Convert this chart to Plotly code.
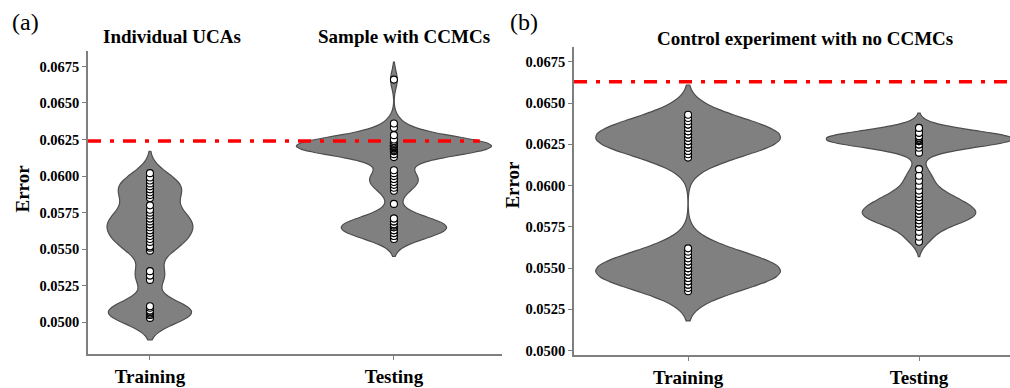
import numpy as np
import plotly.graph_objects as go

# ---------------- data ----------------
categories = ["Training", "Testing"]

# panel (a) – Individual UCAs (Training) / Sample with CCMCs (Testing)
a_train_err = [0.0503, 0.0505, 0.0506, 0.0507, 0.0508, 0.0510, 0.0511,
               0.0529, 0.0532, 0.0535,
               0.0549, 0.0551, 0.0552, 0.0555, 0.0557, 0.0559, 0.0561, 0.0563, 0.0565,
               0.0567, 0.0569, 0.0571, 0.0573, 0.0575, 0.0577, 0.0580,
               0.0585, 0.0587, 0.0589, 0.0591, 0.0593, 0.0595, 0.0597, 0.0599, 0.0602]
a_train_cnt = [1, 2, 2, 3, 2, 1, 1,
               1, 2, 1,
               1, 1, 2, 1, 1, 1, 1, 2, 1,
               2, 1, 2, 1, 1, 1, 1,
               1, 1, 1, 2, 1, 1, 1, 1, 1]

a_test_err = [0.0557, 0.0559, 0.0561, 0.0563, 0.0565, 0.0566, 0.0567, 0.0569, 0.0571,
              0.0581,
              0.0590, 0.0592, 0.0594, 0.0596, 0.0598, 0.0600, 0.0602, 0.0604,
              0.0613, 0.0615, 0.0617, 0.0618, 0.0619, 0.0620, 0.0621, 0.0622, 0.0623,
              0.0624, 0.0625, 0.0628, 0.0633, 0.0636,
              0.0666]
a_test_cnt = [1, 2, 2, 3, 3, 1, 3, 2, 2,
              1,
              1, 1, 1, 1, 2, 1, 1, 1,
              1, 1, 2, 3, 4, 5, 5, 4, 3,
              2, 1, 1, 1, 1,
              1]

# panel (b) – Control experiment with no CCMCs
b_train_err = [0.0536, 0.0538, 0.0540, 0.0542, 0.0544, 0.0546, 0.0548, 0.0550, 0.0552,
               0.0554, 0.0556, 0.0558, 0.0560, 0.0562,
               0.0617, 0.0619, 0.0621, 0.0623, 0.0625, 0.0627, 0.0629, 0.0631, 0.0633,
               0.0635, 0.0637, 0.0639, 0.0641, 0.0643]
b_train_cnt = [1, 1, 2, 2, 3, 3, 3, 3, 3, 2, 2, 1, 1, 1,
               1, 1, 2, 2, 3, 3, 3, 3, 3, 2, 2, 1, 1, 1]

b_test_err = [0.0566, 0.0569, 0.0572, 0.0575, 0.0577, 0.0579, 0.0581, 0.0583, 0.0585,
              0.0587, 0.0589, 0.0591, 0.0593, 0.0595, 0.0597, 0.0600, 0.0603, 0.0606,
              0.0610,
              0.0620, 0.0623, 0.0625, 0.0627, 0.0628, 0.0629, 0.0630, 0.0632, 0.0635]
b_test_cnt = [1, 1, 1, 1, 2, 2, 3, 3, 3,
              2, 2, 2, 2, 1, 1, 1, 1, 1,
              1,
              1, 1, 2, 4, 6, 6, 3, 2, 1]

# KDE bandwidths and violin widths per violin
a_bw = [0.00075, 0.0006]
a_width = [0.352, 0.8]
b_bw = [0.0009, 0.00045]
b_width = [0.8, 0.8]

threshold_a = 0.0624
threshold_b = 0.0663

y_ticks = [0.0500, 0.0525, 0.0550, 0.0575, 0.0600, 0.0625, 0.0650, 0.0675]

# ---------------- styling ----------------
W, H = 1010, 388
SERIF = "Liberation Serif"
FILL = "#808080"
EDGE = "#4d4d4d"
AXC = "#7f7f7f"
RED = "#ff0000"

a_xrange = [-0.254, 1.443]
b_xrange = [-0.494, 1.394]
a_yrange = [0.04786, 0.06857]
b_yrange = [0.04976, 0.06841]


def px_x(p):
    return p / W


def px_y(p):
    return 1 - p / H


fig = go.Figure()


def add_panel(xa, ya, data, bws, widths, thr, thr_x):
    # violins
    for i, (vals, cnts) in enumerate(data):
        y = np.repeat(vals, cnts)
        fig.add_trace(go.Violin(
            x0=i, y=y, bandwidth=bws[i], width=widths[i], spanmode="soft",
            points=False, fillcolor=FILL, opacity=1,
            line=dict(color=EDGE, width=1.2),
            box_visible=False, meanline_visible=False, showlegend=False,
            xaxis=xa, yaxis=ya, hoverinfo="skip"))
    # threshold line
    fig.add_trace(go.Scatter(
        x=thr_x, y=[thr, thr], mode="lines",
        line=dict(color=RED, width=3.5, dash="13px,9px,4px,9px"),
        showlegend=False, xaxis=xa, yaxis=ya, hoverinfo="skip"))
    # individual points
    for i, (vals, cnts) in enumerate(data):
        y = np.repeat(vals, cnts)
        fig.add_trace(go.Scatter(
            x=np.full(len(y), i), y=y, mode="markers",
            marker=dict(size=7, color="white", line=dict(color="black", width=1.1)),
            showlegend=False, xaxis=xa, yaxis=ya, hoverinfo="skip"))


add_panel("x", "y", [(a_train_err, a_train_cnt), (a_test_err, a_test_cnt)],
          a_bw, a_width, threshold_a, [a_xrange[0], 1.352])
add_panel("x2", "y2", [(b_train_err, b_train_cnt), (b_test_err, b_test_cnt)],
          b_bw, b_width, threshold_b, [b_xrange[0], b_xrange[1]])

xcommon = dict(type="linear", tickvals=[0, 1], ticktext=categories,
               showgrid=False, zeroline=False, showline=True, linecolor=AXC,
               linewidth=1.5, ticks="outside", ticklen=5, tickcolor=AXC,
               tickfont=dict(family=SERIF, size=19, color="black", weight="bold"))
ycommon = dict(tickvals=y_ticks, tickformat=".4f", showgrid=False, zeroline=False,
               showline=True, linecolor=AXC, linewidth=1.5, ticks="outside",
               ticklen=4, tickcolor=AXC,
               tickfont=dict(family=SERIF, size=14.5, color="black", weight="bold"))

fig.update_layout(
    width=W, height=H, margin=dict(l=0, r=0, t=0, b=0),
    paper_bgcolor="white", plot_bgcolor="white", violinmode="overlay",
    xaxis=dict(domain=[px_x(88), px_x(502)], range=a_xrange, anchor="y", **xcommon),
    yaxis=dict(domain=[px_y(362), px_y(52)], range=a_yrange, anchor="x", **ycommon),
    xaxis2=dict(domain=[px_x(574), 1.0], range=b_xrange, anchor="y2", **xcommon),
    yaxis2=dict(domain=[px_y(363), px_y(48)], range=b_yrange, anchor="x2", **ycommon),
)

ann = [
    dict(text="(a)", x=px_x(10), y=px_y(23), xanchor="left", yanchor="middle",
         font=dict(family=SERIF, size=24, color="black")),
    dict(text="(b)", x=px_x(508), y=px_y(23), xanchor="left", yanchor="middle",
         font=dict(family=SERIF, size=24, color="black")),
    dict(text="Individual UCAs", x=px_x(172), y=px_y(37), xanchor="center", yanchor="middle",
         font=dict(family=SERIF, size=19, color="black", weight="bold")),
    dict(text="Sample with CCMCs", x=px_x(404), y=px_y(37), xanchor="center", yanchor="middle",
         font=dict(family=SERIF, size=19, color="black", weight="bold")),
    dict(text="Control experiment with no CCMCs", x=px_x(805), y=px_y(39), xanchor="center",
         yanchor="middle", font=dict(family=SERIF, size=19, color="black", weight="bold")),
    dict(text="Error", x=px_x(23), y=px_y(193), xanchor="center", yanchor="middle",
         textangle=-90, font=dict(family=SERIF, size=19, color="black", weight="bold")),
    dict(text="Error", x=px_x(513), y=px_y(189), xanchor="center", yanchor="middle",
         textangle=-90, font=dict(family=SERIF, size=19, color="black", weight="bold")),
]
for a in ann:
    a.update(xref="paper", yref="paper", showarrow=False)
fig.update_layout(annotations=ann)

fig.write_html("out.html")
